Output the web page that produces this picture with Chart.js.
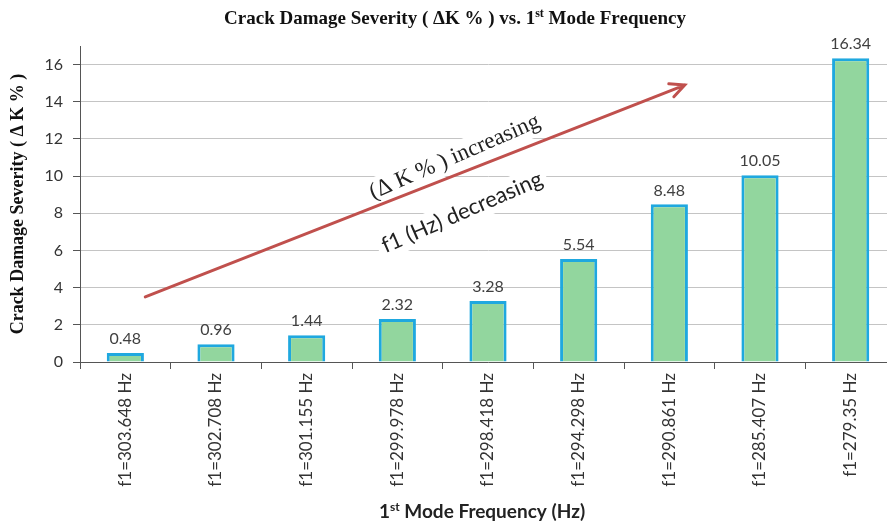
<!DOCTYPE html>
<html>
<head>
<meta charset="utf-8">
<script src="https://cdn.jsdelivr.net/npm/chart.js@4.4.1/dist/chart.umd.min.js"></script>
<style>
html, body { margin: 0; padding: 0; overflow: hidden; background: #fff; }
#wrap { width: 897px; height: 524px; }
</style>
</head>
<body>
<div id="wrap"><canvas id="crack" width="897" height="524"></canvas></div>
<script>
var freqLabels = ["f1=303.648 Hz", "f1=302.708 Hz", "f1=301.155 Hz", "f1=299.978 Hz", "f1=298.418 Hz",
                  "f1=294.298 Hz", "f1=290.861 Hz", "f1=285.407 Hz", "f1=279.35 Hz"];
var severity = [0.48, 0.96, 1.44, 2.32, 3.28, 5.54, 8.48, 10.05, 16.34];
var yTicks = [0, 2, 4, 6, 8, 10, 12, 14, 16];

// arrow annotation in axis units: [category index, severity]
var arrowFrom = [0.22, 3.5];
var arrowTo = [6.17, 14.9];

var sans = "Lato";
var serif = "'Liberation Serif'";

// draw a line of text with a superscript part, centred on cx
function drawParts(ctx, parts, cx, baseline, color) {
    var total = 0;
    parts.forEach(function(p) { ctx.font = p.font; p.w = ctx.measureText(p.text).width; total += p.w; });
    var x = cx - total / 2;
    ctx.fillStyle = color;
    ctx.textAlign = "left";
    ctx.textBaseline = "alphabetic";
    parts.forEach(function(p) {
        ctx.font = p.font;
        ctx.fillText(p.text, x, baseline + (p.dy || 0));
        x += p.w;
    });
}

var valueLabels = {
    id: "valueLabels",
    afterDatasetsDraw: function(chart) {
        var ctx = chart.ctx;
        var meta = chart.getDatasetMeta(0);
        ctx.save();
        ctx.font = "16px " + sans;
        ctx.fillStyle = "#404040";
        ctx.textAlign = "center";
        ctx.textBaseline = "bottom";
        meta.data.forEach(function(bar, i) {
            ctx.fillText(severity[i].toFixed(2), bar.x, bar.y - 6);
        });
        ctx.restore();
    }
};

var trendArrow = {
    id: "trendArrow",
    afterDatasetsDraw: function(chart) {
        var ctx = chart.ctx;
        var xs = chart.scales.x, ys = chart.scales.y;
        var x0 = xs.getPixelForValue(arrowFrom[0]), y0 = ys.getPixelForValue(arrowFrom[1]);
        var x1 = xs.getPixelForValue(arrowTo[0]), y1 = ys.getPixelForValue(arrowTo[1]);
        var len = Math.hypot(x1 - x0, y1 - y0);
        var ux = (x1 - x0) / len, uy = (y1 - y0) / len;
        var nx = uy, ny = -ux;   // normal pointing up-left
        var ang = Math.atan2(uy, ux) - 0.035;

        function note(text, font, t, off) {
            var cx = x0 + ux * t * len + nx * off;
            var cy = y0 + uy * t * len + ny * off;
            ctx.save();
            ctx.translate(cx, cy);
            ctx.rotate(ang);
            ctx.font = font;
            var w = ctx.measureText(text).width;
            ctx.fillStyle = "#fff";
            ctx.fillRect(-w / 2 - 5, -14, w + 10, 28);
            ctx.fillStyle = "#222";
            ctx.textAlign = "center";
            ctx.textBaseline = "middle";
            ctx.fillText(text, 0, 0);
            ctx.restore();
        }
        note("(\u0394 K % ) increasing", "23px " + serif, 0.585, 17);
        note("f1 (Hz) decreasing", "22px " + sans, 0.562, -37);

        ctx.save();
        ctx.strokeStyle = "#C0504D";
        ctx.lineWidth = 3;
        ctx.lineCap = "round";
        ctx.beginPath();
        ctx.moveTo(x0, y0);
        ctx.lineTo(x1, y1);
        var a = Math.atan2(uy, ux), hl = 16, spread = 0.45;
        ctx.moveTo(x1 - hl * Math.cos(a - spread), y1 - hl * Math.sin(a - spread));
        ctx.lineTo(x1, y1);
        ctx.lineTo(x1 - hl * Math.cos(a + spread), y1 - hl * Math.sin(a + spread));
        ctx.stroke();
        ctx.restore();
    }
};

var titles = {
    id: "titles",
    afterDraw: function(chart) {
        var ctx = chart.ctx;
        ctx.save();
        drawParts(ctx, [
            { text: "Crack Damage Severity ( \u0394K % ) vs. 1", font: "bold 19px " + serif },
            { text: "st", font: "bold 12px " + serif, dy: -7 },
            { text: " Mode Frequency", font: "bold 19px " + serif }
        ], 455, 24, "#111");
        drawParts(ctx, [
            { text: "1", font: "bold 19px " + sans },
            { text: "st", font: "bold 12px " + sans, dy: -7 },
            { text: " Mode Frequency (Hz)", font: "bold 19px " + sans }
        ], 482, 518, "#222");
        ctx.restore();
    }
};

new Chart(document.getElementById("crack"), {
    type: "bar",
    data: {
        labels: freqLabels,
        datasets: [{
            data: severity,
            backgroundColor: "rgb(146, 214, 158)",
            borderColor: "#1FA8DF",
            borderWidth: 3,
            barPercentage: 0.41,
            categoryPercentage: 1
        }]
    },
    options: {
        responsive: false,
        animation: false,
        layout: { padding: { top: 46, right: 1, left: 0, bottom: 0 } },
        plugins: {
            legend: { display: false },
            tooltip: { enabled: false },
            title: { display: false }
        },
        scales: {
            x: {
                grid: { drawOnChartArea: false, tickLength: 7, tickColor: "#555", color: "#555" },
                border: { color: "#555", width: 1 },
                ticks: {
                    minRotation: 90, maxRotation: 90, autoSkip: false, padding: 4,
                    color: "#333", font: { family: sans, size: 17 }
                },
                afterFit: function(s) { s.height = 162; }
            },
            y: {
                min: 0,
                max: 17,
                afterBuildTicks: function(axis) {
                    axis.ticks = yTicks.map(function(v) { return { value: v }; });
                },
                grid: { color: "#C4C4C4", tickLength: 7, tickColor: "#555" },
                border: { color: "#555", width: 1 },
                ticks: { padding: 10, color: "#333", font: { family: sans, size: 16 } },
                title: {
                    display: true,
                    text: "Crack Damage Severity ( \u0394 K % )",
                    color: "#111",
                    font: { family: "Liberation Serif", size: 18, weight: "bold" },
                    padding: { top: 8, bottom: 0 }
                },
                afterFit: function(s) { s.width = 80; }
            }
        }
    },
    plugins: [valueLabels, trendArrow, titles]
});
</script>
</body>
</html>
